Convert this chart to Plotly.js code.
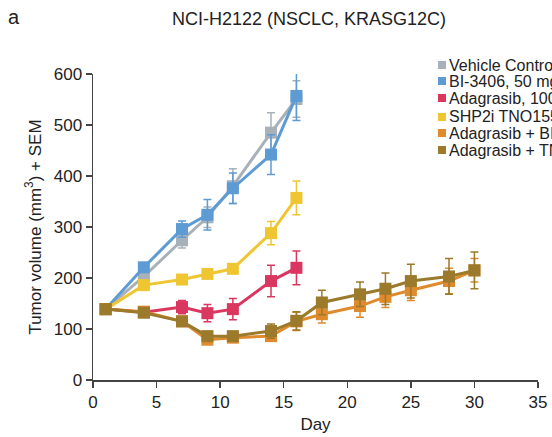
<!DOCTYPE html>
<html>
<head>
<meta charset="utf-8">
<script src="https://cdn.plot.ly/plotly-3.0.1.min.js"></script>
<style>html,body{margin:0;padding:0;background:#fff;}#chart{width:552px;height:437px;}</style>
</head>
<body>
<div id="chart"></div>
<script>
const names = ["Vehicle Control", "BI-3406, 50 mg/kg bid", "Adagrasib, 100 mg/kg qd", "SHP2i TNO155, 10 mg/kg bid", "Adagrasib + BI-3406", "Adagrasib + TNO155"];
const colors = ["#a8b1b9", "#5d9bd5", "#d9375f", "#efc631", "#de8a2d", "#9b7a2b"];

const daysShort = [1, 4, 7, 9, 11, 14, 16];
const daysLong = [1, 4, 7, 9, 11, 14, 16, 18, 21, 23, 25, 28, 30];

const vehicle = [139, 203, 274, 319, 380, 485, 551];
const vehicleErr = [5, 8, 15, 20, 34, 39, 36];
const bi3406 = [139, 221, 296, 324, 376, 442, 557];
const bi3406Err = [5, 8, 16, 30, 30, 39, 48];
const adagrasib = [139, 133, 143, 131, 139, 194, 220];
const adagrasibErr = [5, 6, 13, 17, 21, 31, 33];
const tno155 = [139, 186, 197, 208, 218, 288, 357];
const tno155Err = [5, 6, 6, 7, 8, 23, 33];
const adaBi = [139, 134, 115, 79, 83, 86, 115, 129, 145, 163, 176, 194, 215];
const adaBiErr = [5, 6, 7, 6, 6, 6, 18, 17, 22, 21, 20, 25, 23];
const adaTno = [139, 132, 115, 86, 86, 96, 116, 152, 168, 179, 194, 203, 215];
const adaTnoErr = [5, 6, 7, 7, 6, 14, 18, 24, 24, 31, 33, 35, 36];

const series = [
  {x: daysShort, y: vehicle, e: vehicleErr},
  {x: daysShort, y: bi3406, e: bi3406Err},
  {x: daysShort, y: adagrasib, e: adagrasibErr},
  {x: daysShort, y: tno155, e: tno155Err},
  {x: daysLong, y: adaBi, e: adaBiErr},
  {x: daysLong, y: adaTno, e: adaTnoErr}
];

const traces = series.map((s, i) => ({
  x: s.x, y: s.y, type: 'scatter', mode: 'lines+markers',
  name: names[i], showlegend: false,
  line: {color: colors[i], width: 3},
  marker: {symbol: 'square', size: 12, color: colors[i]},
  error_y: {type: 'data', array: s.e, visible: true, color: colors[i], thickness: 1.5, width: 4}
}));

// plot area in pixels: x 93..538, y 74..380
const PL = 93, PR = 538, PT = 74, PB = 380;
const px = v => (v - PL) / (PR - PL);
const py = v => (PB - v) / (PB - PT);

// legend key rows (pixel centres)
const legendRows = [65, 81, 98, 117, 133, 150];
const shapes = [];
const annotations = [];
names.forEach((n, i) => {
  const yc = legendRows[i];
  shapes.push({type: 'rect', xref: 'paper', yref: 'paper',
    x0: px(438), x1: px(446), y0: py(yc + 4), y1: py(yc - 4),
    fillcolor: colors[i], line: {width: 0}});
  annotations.push({text: n, xref: 'paper', yref: 'paper', x: px(447), y: py(yc),
    xanchor: 'left', yanchor: 'middle', showarrow: false,
    font: {size: 16, color: '#222'}});
});
annotations.push({text: 'a', xref: 'paper', yref: 'paper', x: px(6), y: py(17),
  xanchor: 'left', yanchor: 'middle', showarrow: false, font: {size: 20, color: '#222'}});

const fam = 'Liberation Sans, Arial, sans-serif';
const layout = {
  width: 552, height: 437,
  margin: {l: PL, r: 552 - PR, t: PT, b: 437 - PB, autoexpand: false},
  paper_bgcolor: '#fff', plot_bgcolor: '#fff',
  font: {family: fam, size: 16, color: '#222'},
  showlegend: false,
  title: {text: 'NCI-H2122 (NSCLC, KRASG12C)', x: px(309), xref: 'paper', xanchor: 'center',
    y: 1 - 19 / 437, yref: 'container', yanchor: 'middle', font: {family: fam, size: 18, color: '#222'}},
  xaxis: {
    range: [0, 35], dtick: 5, tick0: 0, showgrid: false, zeroline: false,
    showline: true, linecolor: '#444', linewidth: 1.5,
    ticks: 'outside', ticklen: 6, tickwidth: 1.5, tickcolor: '#444',
    title: {text: 'Day', font: {size: 17}, standoff: 7},
    tickfont: {size: 17}, automargin: false
  },
  yaxis: {
    range: [0, 600], dtick: 100, tick0: 0, showgrid: false, zeroline: false,
    showline: true, linecolor: '#444', linewidth: 1.5,
    ticks: 'outside', ticklen: 6, tickwidth: 1.5, tickcolor: '#444',
    title: {text: 'Tumor volume (mm<sup>3</sup>) + SEM', font: {size: 17}, standoff: 8},
    tickfont: {size: 17}, automargin: false
  },
  shapes: shapes,
  annotations: annotations
};

Plotly.newPlot('chart', traces, layout, {staticPlot: true, displayModeBar: false});
</script>
</body>
</html>
